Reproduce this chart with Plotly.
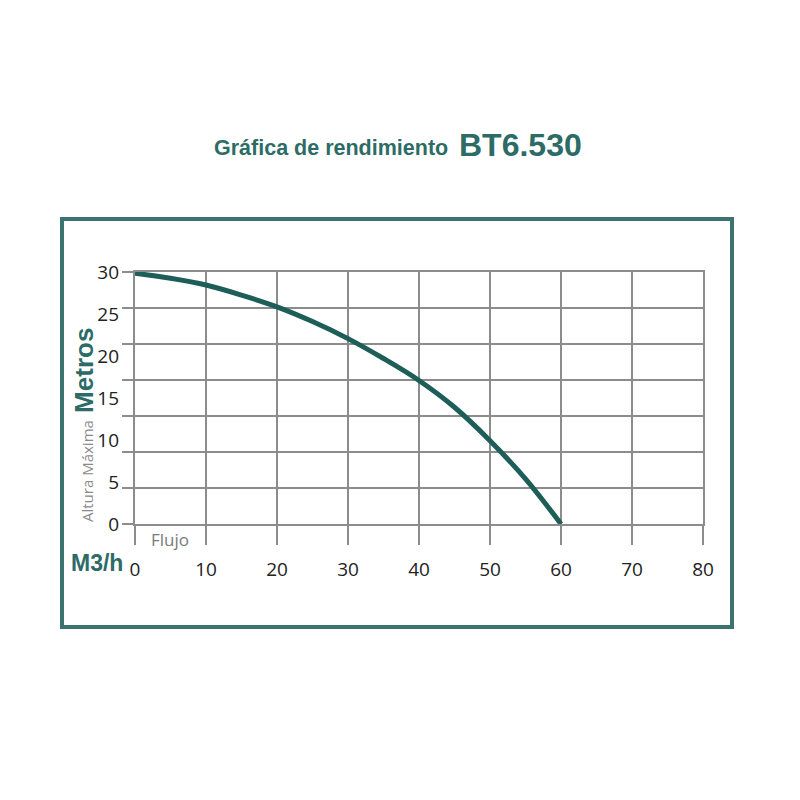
import plotly.graph_objects as go

# Data
flow = [0, 5, 10, 15, 20, 25, 30, 35, 40, 45, 50, 55, 60]          # M3/h
head = [29.85, 29.25, 28.45, 27.25, 25.85, 24.1, 22.07, 19.7, 17.09, 13.9, 9.92, 5.38, 0.0]  # m

x_ticks = [0, 10, 20, 30, 40, 50, 60, 70, 80]
y_labels = [0, 5, 10, 15, 20, 25, 30]
n_grid_rows = 7

TEAL = "#2d6b66"
CURVE = "#1e5e59"
GRID = "#8c8c8c"
HEAD_FONT = "Liberation Sans, Arial, sans-serif"
BODY = "Open Sans, sans-serif"

# plot area in page pixels (page has 8px body offset)
PX0, PX1, PY0, PY1 = 135, 703, 272, 524
def px(x):
    return (x - PX0) / (PX1 - PX0)
def py(y):
    return (PY1 - y) / (PY1 - PY0)

fig = go.Figure()
fig.add_trace(go.Scatter(
    x=flow, y=head, mode="lines",
    line=dict(color=CURVE, width=5, shape="spline", smoothing=1.0),
    hoverinfo="skip", showlegend=False,
))
fig.add_trace(go.Scatter(x=[None], y=[None], yaxis="y2", showlegend=False, hoverinfo="skip"))

grid_vals = [30 * k / n_grid_rows for k in range(n_grid_rows + 1)]

fig.update_layout(
    width=800, height=800, autosize=False,
    paper_bgcolor="white", plot_bgcolor="white",
    margin=dict(l=PX0 - 8, r=800 - PX1 + 8, t=PY0 - 8, b=800 - PY1 + 8),
    xaxis=dict(
        range=[0, 80], tickvals=x_ticks, ticktext=[str(v) for v in x_ticks],
        showgrid=True, gridcolor=GRID, gridwidth=2,
        showline=True, linecolor=GRID, linewidth=2, mirror=True,
        ticks="outside", ticklen=19, tickwidth=2, tickcolor=GRID,
        ticklabelstandoff=8,
        tickfont=dict(family=BODY, size=19, color="#222222"),
        zeroline=False, fixedrange=True,
    ),
    yaxis=dict(
        range=[0, 30], tickvals=grid_vals, showticklabels=False,
        showgrid=True, gridcolor=GRID, gridwidth=2,
        showline=True, linecolor=GRID, linewidth=2, mirror=True,
        ticks="outside", ticklen=11, tickwidth=2, tickcolor=GRID,
        zeroline=False, fixedrange=True,
    ),
    yaxis2=dict(
        overlaying="y", side="left", range=[0, 30],
        tickvals=y_labels, ticktext=[str(v) for v in y_labels],
        showgrid=False, showline=False, zeroline=False,
        ticks="", ticklabelstandoff=15,
        tickfont=dict(family=BODY, size=19, color="#222222"),
        fixedrange=True,
    ),
    shapes=[dict(
        type="rect", xref="paper", yref="paper",
        x0=px(62), x1=px(732), y0=py(627), y1=py(219),
        line=dict(color="#3a7370", width=4), fillcolor="rgba(0,0,0,0)", layer="below",
    )],
    annotations=[
        dict(text="<b>Gráfica de rendimiento</b>", xref="paper", yref="paper",
             x=px(450), y=py(148), xanchor="right", yanchor="middle",
             showarrow=False, font=dict(family=HEAD_FONT, size=21.5, color=TEAL, weight=700)),
        dict(text="<b>BT6.530</b>", xref="paper", yref="paper",
             x=px(457), y=py(145), xanchor="left", yanchor="middle",
             showarrow=False, font=dict(family=HEAD_FONT, size=32, color=TEAL, weight=700)),
        dict(text="<span style='font-family:Open Sans;font-size:15px;color:#8a8a8a;font-weight:normal'>Altura Máxima</span> <b>Metros</b>",
             xref="paper", yref="paper", x=px(84), y=py(425),
             xanchor="center", yanchor="middle", textangle=-90, showarrow=False,
             font=dict(family=HEAD_FONT, size=26, color=TEAL, weight=700)),
        dict(text="<b>M3/h</b>", xref="paper", yref="paper",
             x=px(97), y=py(563), xanchor="center", yanchor="middle",
             showarrow=False, font=dict(family=HEAD_FONT, size=23, color=TEAL, weight=700)),
        dict(text="Flujo", xref="paper", yref="paper",
             x=px(170), y=py(539), xanchor="center", yanchor="middle",
             showarrow=False, font=dict(family=BODY, size=17, color="#7a7a7a")),
    ],
)

fig.write_html("out.html")
